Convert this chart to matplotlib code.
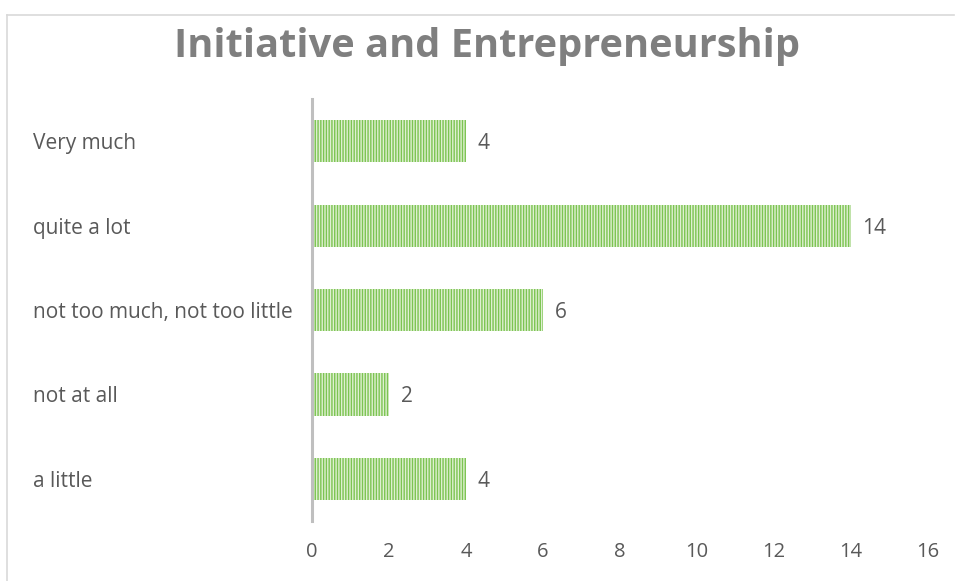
import matplotlib.pyplot as plt
from matplotlib.lines import Line2D

categories = ["a little", "not at all", "not too much, not too little", "quite a lot", "Very much"]
counts = [4, 2, 6, 14, 4]
xticks = [0, 2, 4, 6, 8, 10, 12, 14, 16]

plt.rcParams["font.family"] = ["Open Sans", "DejaVu Sans"]
plt.rcParams["hatch.linewidth"] = 1.0
text_gray = "#595959"
fs = 15

fig = plt.figure(figsize=(9.55, 5.81), dpi=100)
W, H = 955, 581
ax = fig.add_axes([312 / W, 1 - 521 / H, (928 - 312) / W, (521 - 99) / H])

bars = ax.barh(range(len(categories)), counts, height=0.5,
               color="#dff0d2", edgecolor="#7cc452", hatch="||||||", linewidth=0)
for b in bars:
    b.set_edgecolor("#7cc452")

for i, v in enumerate(counts):
    ax.text(v + 0.3, i, str(v), va="center_baseline", ha="left", fontsize=fs, color=text_gray)

ax.set_xlim(0, 16)
ax.set_ylim(-0.5, len(categories) - 0.5)
ax.set_xticks(xticks)
ax.set_xticklabels([str(t) for t in xticks])
ax.set_yticks(range(len(categories)))
ax.set_yticklabels([])
ax.tick_params(axis="both", length=0, labelsize=14.5, colors=text_gray)
ax.tick_params(axis="x", pad=15)

for i, c in enumerate(categories):
    ax.text(33 / W, ax.transData.transform((0, i))[1] / H, c,
            transform=fig.transFigure, ha="left", va="center_baseline",
            fontsize=fs, color=text_gray)

for s in ["top", "right", "bottom"]:
    ax.spines[s].set_visible(False)
ax.spines["left"].set_color("#bfbfbf")
ax.spines["left"].set_linewidth(2.2)

fig.text(487 / W, 1 - 47 / H, "Initiative and Entrepreneurship", ha="center", va="center",
         fontsize=28.6, fontweight="bold", color="#7f7f7f")

# outer frame (top and left edges)
fig.add_artist(Line2D([6.5 / W, 954 / W], [1 - 14.5 / H, 1 - 14.5 / H],
                      transform=fig.transFigure, color="#d9d9d9", linewidth=1.2))
fig.add_artist(Line2D([6.5 / W, 6.5 / W], [1 - 14.5 / H, 0],
                      transform=fig.transFigure, color="#d9d9d9", linewidth=1.2))

fig.savefig("out.png", dpi=100)
